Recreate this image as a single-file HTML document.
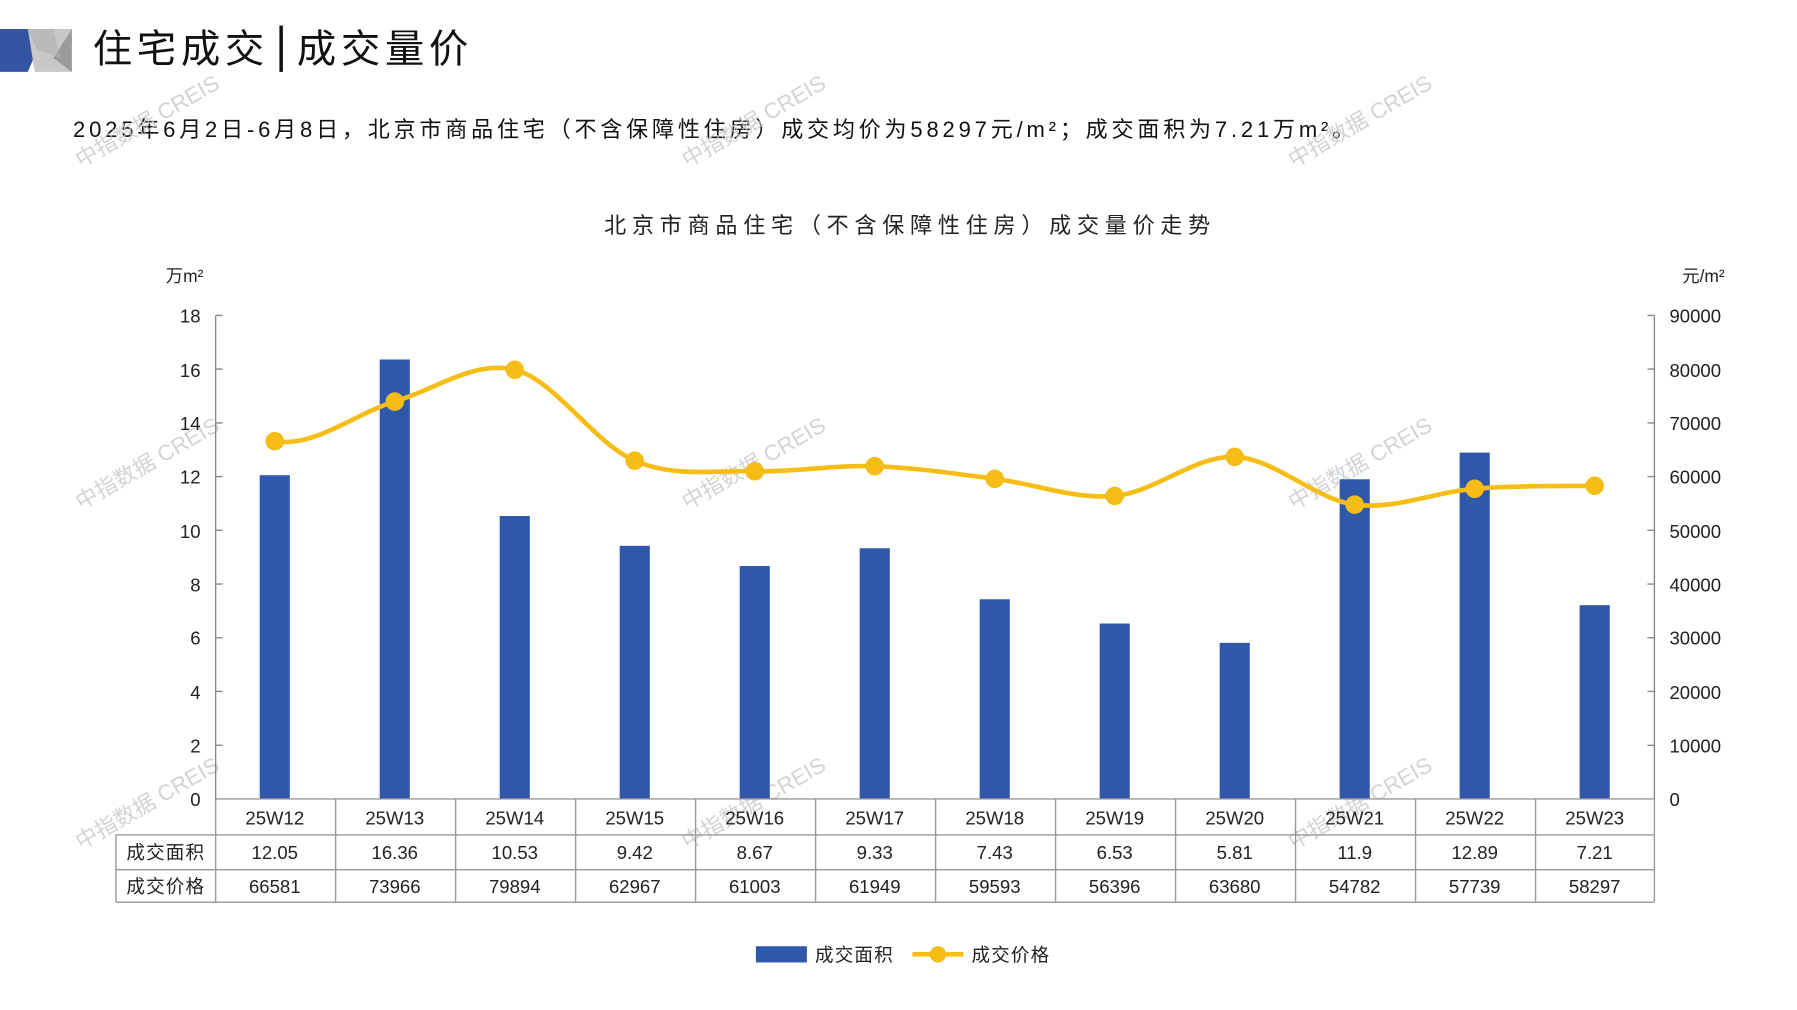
<!DOCTYPE html>
<html><head><meta charset="utf-8"><style>
html,body{margin:0;padding:0;background:#fff;}
svg{display:block;}
text{font-family:"Liberation Sans","Noto Sans CJK SC",sans-serif;}
</style></head><body>
<svg width="1797" height="1010" viewBox="0 0 1550 871" preserveAspectRatio="none" xmlns="http://www.w3.org/2000/svg">
<polygon points="0,25 24,25 32,43 24,62 0,62" fill="#3454a4"/>
<polygon points="24,25 62,25 62,40 48,50 62,62 30,62" fill="#c8c8c8"/>
<polygon points="62,25 62,62 46,50" fill="#9a9a9a"/>
<polygon points="24,25 46,25 52,50 32,43" fill="#b0b0b0" opacity="0.6"/>
<text x="80" y="54" font-size="34" fill="#111" font-family="'Noto Serif CJK SC',serif" letter-spacing="4">住宅成交</text>
<rect x="241" y="22" width="3" height="40" fill="#111"/>
<text x="256" y="54" font-size="34" fill="#111" font-family="'Noto Serif CJK SC',serif" letter-spacing="4">成交量价</text>
<text x="63" y="118" font-size="19" fill="#111" letter-spacing="3.3">2025年6月2日-6月8日，北京市商品住宅（不含保障性住房）成交均价为58297元/m²；成交面积为7.21万m²。</text>
<text x="785" y="201" font-size="19" fill="#222" text-anchor="middle" letter-spacing="5">北京市商品住宅（不含保障性住房）成交量价走势</text>
<g fill="#c8c8c8" font-size="19" opacity="0.8">
<text transform="translate(70,145) rotate(-30)">中指数据 CREIS</text>
<text transform="translate(593,145) rotate(-30)">中指数据 CREIS</text>
<text transform="translate(1116,145) rotate(-30)">中指数据 CREIS</text>
<text transform="translate(70,440) rotate(-30)">中指数据 CREIS</text>
<text transform="translate(593,440) rotate(-30)">中指数据 CREIS</text>
<text transform="translate(1116,440) rotate(-30)">中指数据 CREIS</text>
<text transform="translate(70,733) rotate(-30)">中指数据 CREIS</text>
<text transform="translate(593,733) rotate(-30)">中指数据 CREIS</text>
<text transform="translate(1116,733) rotate(-30)">中指数据 CREIS</text>
</g>
<text x="143" y="243" font-size="15" fill="#222">万m²</text>
<text x="1451" y="243" font-size="15" fill="#222">元/m²</text>
<g font-size="16" fill="#222" text-anchor="end">
<text x="173" y="278">18</text><text x="173" y="325">16</text><text x="173" y="371">14</text><text x="173" y="417">12</text><text x="173" y="464">10</text><text x="173" y="510">8</text><text x="173" y="556">6</text><text x="173" y="603">4</text><text x="173" y="649">2</text><text x="173" y="695">0</text>
</g>
<g font-size="16" fill="#222">
<text x="1440" y="278">90000</text><text x="1440" y="325">80000</text><text x="1440" y="371">70000</text><text x="1440" y="417">60000</text><text x="1440" y="464">50000</text><text x="1440" y="510">40000</text><text x="1440" y="556">30000</text><text x="1440" y="603">20000</text><text x="1440" y="649">10000</text><text x="1440" y="695">0</text>
</g>
<g stroke="#888" stroke-width="1.2" fill="none">
<path d="M186,272V689M186,272h6M186,318.3h6M186,364.7h6M186,411h6M186,457.3h6M186,503.7h6M186,550h6M186,596.3h6M186,642.7h6"/>
<path d="M1427,272V689M1427,272h-6M1427,318.3h-6M1427,364.7h-6M1427,411h-6M1427,457.3h-6M1427,503.7h-6M1427,550h-6M1427,596.3h-6M1427,642.7h-6"/>
</g>
<g fill="#2f59a8">
<rect x="224" y="409.8" width="26" height="279.2"/>
<rect x="327.5" y="310" width="26" height="379"/>
<rect x="431" y="445" width="26" height="244"/>
<rect x="534.5" y="470.7" width="26" height="218.3"/>
<rect x="638" y="488.1" width="26" height="200.9"/>
<rect x="741.5" y="472.8" width="26" height="216.2"/>
<rect x="845" y="516.8" width="26" height="172.2"/>
<rect x="948.5" y="537.7" width="26" height="151.3"/>
<rect x="1052" y="554.4" width="26" height="134.6"/>
<rect x="1155.5" y="413.3" width="26" height="275.7"/>
<rect x="1259" y="390.3" width="26" height="298.7"/>
<rect x="1362.5" y="521.9" width="26" height="167.1"/>
</g>
<path d="M237,380.5 C271.5,386.2 306,356.6 340.5,346.3 C375,336 409.5,310.4 444,318.9 C478.5,327.4 513,382.7 547.5,397.3 C582,411.9 616.5,405.6 651,406.4 C685.5,407.2 720,400.9 754.5,402 C789,403.1 823.5,408.6 858,412.9 C892.5,417.2 927,430.9 961.5,427.7 C996,424.6 1030.5,392.8 1065,394 C1099.5,395.3 1134,430.6 1168.5,435.2 C1203,439.8 1237.5,424.2 1272,421.5 C1306.5,418.8 1341,419.3 1375.5,418.9" fill="none" stroke="#f6bd16" stroke-width="4"/>
<g fill="#f6bd16">
<circle cx="237" cy="380.5" r="8"/><circle cx="340.5" cy="346.3" r="8"/><circle cx="444" cy="318.9" r="8"/><circle cx="547.5" cy="397.3" r="8"/><circle cx="651" cy="406.4" r="8"/><circle cx="754.5" cy="402" r="8"/><circle cx="858" cy="412.9" r="8"/><circle cx="961.5" cy="427.7" r="8"/><circle cx="1065" cy="394" r="8"/><circle cx="1168.5" cy="435.2" r="8"/><circle cx="1272" cy="421.5" r="8"/><circle cx="1375.5" cy="418.9" r="8"/>
</g>
<g stroke="#999" stroke-width="1.2" fill="none">
<path d="M186,689H1427M100,720H1427M100,750H1427M100,778H1427M100,720V778"/>
<path d="M186,689V778M289.5,689V778M393,689V778M496.5,689V778M600,689V778M703.5,689V778M807,689V778M910.5,689V778M1014,689V778M1117.5,689V778M1221,689V778M1324.5,689V778M1427,689V778"/>
</g>
<g font-size="16" fill="#222" text-anchor="middle">
<text x="237" y="711">25W12</text><text x="340.5" y="711">25W13</text><text x="444" y="711">25W14</text><text x="547.5" y="711">25W15</text><text x="651" y="711">25W16</text><text x="754.5" y="711">25W17</text><text x="858" y="711">25W18</text><text x="961.5" y="711">25W19</text><text x="1065" y="711">25W20</text><text x="1168.5" y="711">25W21</text><text x="1272" y="711">25W22</text><text x="1375.5" y="711">25W23</text>
<text x="143" y="741" letter-spacing="1">成交面积</text>
<text x="237" y="741">12.05</text><text x="340.5" y="741">16.36</text><text x="444" y="741">10.53</text><text x="547.5" y="741">9.42</text><text x="651" y="741">8.67</text><text x="754.5" y="741">9.33</text><text x="858" y="741">7.43</text><text x="961.5" y="741">6.53</text><text x="1065" y="741">5.81</text><text x="1168.5" y="741">11.9</text><text x="1272" y="741">12.89</text><text x="1375.5" y="741">7.21</text>
<text x="143" y="770" letter-spacing="1">成交价格</text>
<text x="237" y="770">66581</text><text x="340.5" y="770">73966</text><text x="444" y="770">79894</text><text x="547.5" y="770">62967</text><text x="651" y="770">61003</text><text x="754.5" y="770">61949</text><text x="858" y="770">59593</text><text x="961.5" y="770">56396</text><text x="1065" y="770">63680</text><text x="1168.5" y="770">54782</text><text x="1272" y="770">57739</text><text x="1375.5" y="770">58297</text>
</g>
<rect x="652" y="816" width="44" height="14" fill="#2f59a8"/>
<text x="703" y="829" font-size="16" fill="#222" letter-spacing="1">成交面积</text>
<line x1="787" y1="823" x2="831" y2="823" stroke="#f6bd16" stroke-width="4"/>
<circle cx="809" cy="823" r="7" fill="#f6bd16"/>
<text x="838" y="829" font-size="16" fill="#222" letter-spacing="1">成交价格</text>
</svg>
</body></html>
